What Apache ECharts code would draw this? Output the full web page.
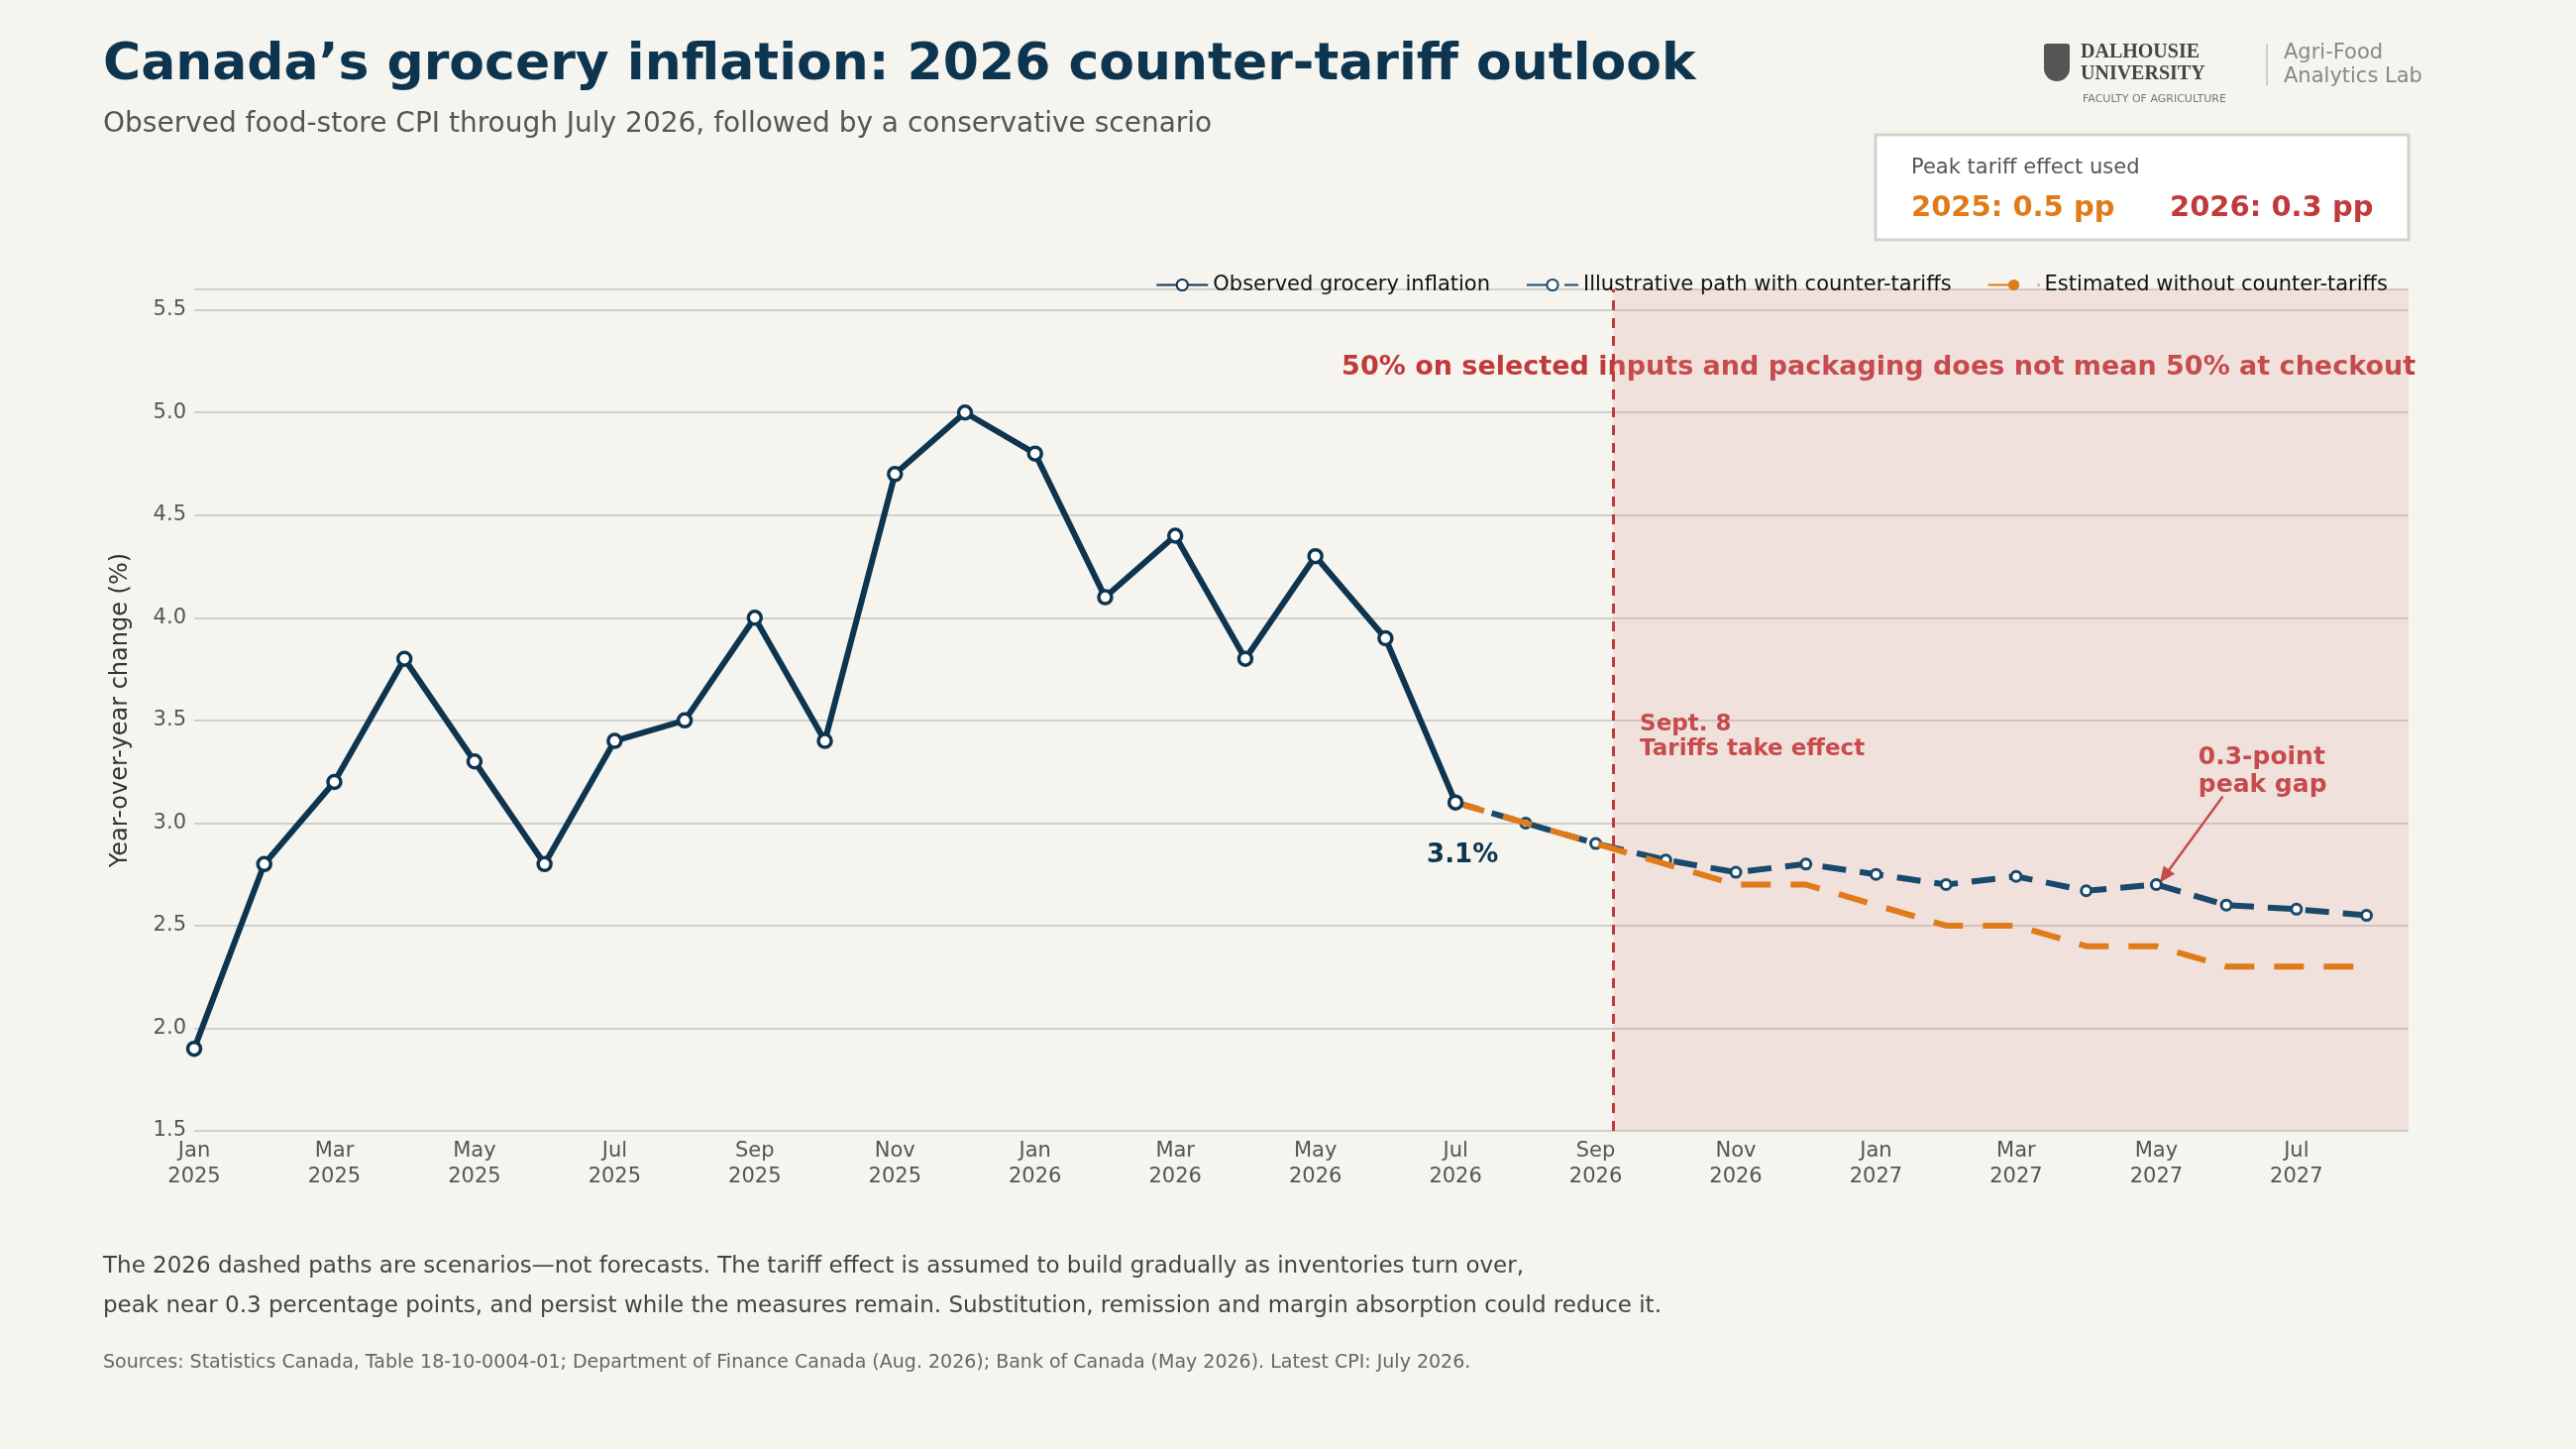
<!DOCTYPE html>
<html><head><meta charset="utf-8">
<script src="https://cdn.jsdelivr.net/npm/echarts@6/dist/echarts.min.js"></script>
<style>html,body{margin:0;padding:0;background:#f6f4ef}#c{width:2600px;height:1462px}</style>
</head><body><div id="c"></div>
<script>
const months = ["Jan","Feb","Mar","Apr","May","Jun","Jul","Aug","Sep","Oct","Nov","Dec"];
const startYear = 2025;
const observed = [1.9,2.8,3.2,3.8,3.3,2.8,3.4,3.5,4.0,3.4,4.7,5.0,4.8,4.1,4.4,3.8,4.3,3.9,3.1];
const withCounter = [3.1,3.0,2.9,2.82,2.76,2.8,2.75,2.7,2.74,2.67,2.7,2.6,2.58,2.55];
const withoutCounter = [3.1,3.0,2.9,2.8,2.7,2.7,2.6,2.5,2.5,2.4,2.4,2.3,2.3,2.3];
const scenarioStart = 18;
const tariffDate = 20.25;
const xMax = 31.6;
const yTicks = [1.5,5.6,0.5];

const obsData = observed.map((v,i)=>[i,v]);
const withData = withCounter.map((v,i)=>[scenarioStart+i,v]);
const withoutData = withoutCounter.map((v,i)=>[scenarioStart+i,v]);
const F = 'DejaVu Sans';
const RED = '#c0393b', NAVY = '#0d3550', ORANGE = '#e07b1a', BLUE = '#1a4a6b';

const chart = echarts.init(document.getElementById('c'));
chart.setOption({
  backgroundColor:'#f6f4ef',
  animation:false,
  textStyle:{fontFamily:F},
  grid:{left:196,right:169,top:292,bottom:321},
  legend:{right:185,top:272,itemWidth:52,itemHeight:14,itemGap:36,
    textStyle:{fontSize:21,color:'#111',fontFamily:F},
    data:['Observed grocery inflation','Illustrative path with counter-tariffs','Estimated without counter-tariffs']},
  xAxis:{type:'value',min:0,max:xMax,interval:2,
    axisLine:{show:false},axisTick:{show:false},splitLine:{show:false},
    axisLabel:{fontSize:21,color:'#555',lineHeight:26,showMaxLabel:false,
      formatter:v=>{if(v%2!==0||v>31)return '';return months[v%12]+'\n'+(startYear+Math.floor(v/12));}}},
  yAxis:{type:'value',min:yTicks[0],max:yTicks[1],interval:yTicks[2],
    name:'Year-over-year change (%)',nameLocation:'middle',nameGap:62,nameRotate:90,
    nameTextStyle:{fontSize:24,color:'#333'},
    axisLine:{show:false},axisTick:{show:false},
    axisLabel:{fontSize:21,color:'#555',showMaxLabel:false,formatter:v=>v.toFixed(1)},
    splitLine:{lineStyle:{color:'#cfcfcb',width:2}}},
  series:[
    {name:'Observed grocery inflation',type:'line',data:obsData,z:5,
      lineStyle:{color:NAVY,width:6},itemStyle:{color:'#fff',borderColor:NAVY,borderWidth:3.5},
      symbol:'circle',symbolSize:13,
      markArea:{silent:true,itemStyle:{color:'rgba(226,150,150,0.2)'},data:[[{xAxis:tariffDate,yAxis:1.5},{xAxis:xMax,yAxis:5.6}]]},
      markLine:{silent:true,symbol:'none',label:{show:false},lineStyle:{color:RED,type:[10,8],width:3},data:[[{coord:[tariffDate,1.5]},{coord:[tariffDate,5.6]}]]}},
    {name:'Illustrative path with counter-tariffs',type:'line',data:withData,z:3,
      lineStyle:{color:BLUE,width:6,type:[24,14]},itemStyle:{color:'#fff',borderColor:BLUE,borderWidth:3},
      symbol:'circle',symbolSize:10},
    {name:'Estimated without counter-tariffs',type:'line',data:withoutData,z:4,
      lineStyle:{color:ORANGE,width:6,type:[30,20]},itemStyle:{color:ORANGE},symbol:'none'}
  ]
});
const p = (x,y)=>chart.convertToPixel({gridIndex:0},[x,y]);
const a1=p(18.1,2.84), a2=p(20.63,3.54), a3=p(31.7,5.22), a4=p(28.6,3.25), t1=p(28.95,3.13), t0=p(28.05,2.71);
chart.setOption({graphic:[
  {type:'text',left:104,top:40,style:{text:'Canada’s grocery inflation: 2026 counter-tariff outlook',font:'bold 52px "DejaVu Sans"',fill:NAVY}},
  {type:'text',left:104,top:112,style:{text:'Observed food-store CPI through July 2026, followed by a conservative scenario',font:'28px "DejaVu Sans"',fill:'#555'}},
  {type:'rect',shape:{x:1893,y:136,width:538,height:106},style:{fill:'#fff',stroke:'#d4d2cc',lineWidth:3}},
  {type:'text',x:1929,y:159,style:{text:'Peak tariff effect used',font:'21px "DejaVu Sans"',fill:'#555'}},
  {type:'text',x:1929,y:196,style:{text:'2025: 0.5 pp',font:'bold 29px "DejaVu Sans"',fill:ORANGE}},
  {type:'text',x:2190,y:196,style:{text:'2026: 0.3 pp',font:'bold 29px "DejaVu Sans"',fill:RED}},
  {type:'text',x:2100,y:42,style:{text:'DALHOUSIE\nUNIVERSITY',font:'bold 20px "Liberation Serif"',fill:'#444',lineHeight:22}},
  {type:'text',x:2102,y:95,style:{text:'FACULTY OF AGRICULTURE',font:'11px "DejaVu Sans"',fill:'#777'}},
  {type:'rect',shape:{x:2063,y:44,width:26,height:38,r:[3,3,13,13]},style:{fill:'#555'}},
  {type:'rect',shape:{x:2287,y:44,width:2,height:42},style:{fill:'#ccc'}},
  {type:'text',x:2305,y:42,style:{text:'Agri-Food\nAnalytics Lab',font:'21px "DejaVu Sans"',fill:'#888',lineHeight:24}},
  {type:'text',x:a1[0],y:a1[1],style:{text:'3.1%',font:'bold 26px "DejaVu Sans"',fill:NAVY,align:'center',verticalAlign:'middle'}},
  {type:'text',x:a2[0],y:a2[1],style:{text:'Sept. 8\nTariffs take effect',font:'bold 23px "DejaVu Sans"',fill:RED,lineHeight:25,verticalAlign:'top'}},
  {type:'text',x:a3[0],y:a3[1],style:{text:'50% on selected inputs and packaging does not mean 50% at checkout',font:'bold 27px "DejaVu Sans"',fill:RED,align:'right',verticalAlign:'middle'}},
  {type:'text',x:a4[0],y:a4[1],style:{text:'0.3-point\npeak gap',font:'bold 25px "DejaVu Sans"',fill:RED,lineHeight:28,verticalAlign:'middle'}},
  {type:'line',shape:{x1:t1[0],y1:t1[1],x2:t0[0],y2:t0[1]},style:{stroke:RED,lineWidth:2.5}},
  {type:'polygon',shape:{points:(()=>{const dx=t0[0]-t1[0],dy=t0[1]-t1[1],L=Math.hypot(dx,dy),ux=dx/L,uy=dy/L;return [[t0[0],t0[1]],[t0[0]-16*ux-7*uy,t0[1]-16*uy+7*ux],[t0[0]-16*ux+7*uy,t0[1]-16*uy-7*ux]];})()},style:{fill:RED}},
  {type:'text',left:104,top:1258,style:{text:'The 2026 dashed paths are scenarios—not forecasts. The tariff effect is assumed to build gradually as inventories turn over,\npeak near 0.3 percentage points, and persist while the measures remain. Substitution, remission and margin absorption could reduce it.',font:'23px "DejaVu Sans"',fill:'#444',lineHeight:40}},
  {type:'text',left:104,top:1366,style:{text:'Sources: Statistics Canada, Table 18-10-0004-01; Department of Finance Canada (Aug. 2026); Bank of Canada (May 2026). Latest CPI: July 2026.',font:'19px "DejaVu Sans"',fill:'#666'}}
]});
</script></body></html>
